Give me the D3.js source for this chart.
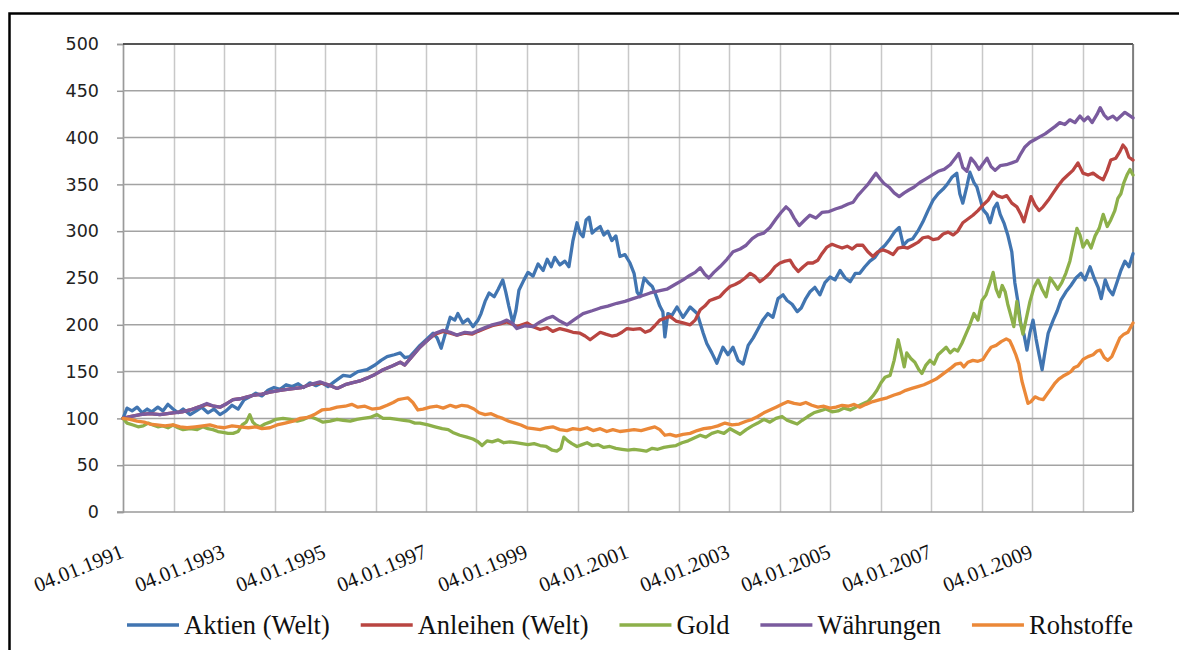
<!DOCTYPE html>
<html><head><meta charset="utf-8">
<script src="https://cdn.jsdelivr.net/npm/d3@7"></script>
<style>
html,body{margin:0;padding:0;background:#fff;}svg{display:block;}
.serif{font-family:"Liberation Serif","Tinos","Times New Roman","Nimbus Roman","Nimbus Roman No9 L","FreeSerif","DejaVu Serif","Noto Serif","Noto Serif CJK SC",serif;}
.sans{font-family:"DejaVu Sans",Verdana,sans-serif;}
</style>
</head><body>
<svg id="chart" width="1179" height="650"></svg>
<script>
// Time in years since 04.01.1991, value indexed to 100
const aktien = [[0,100],[0.08,111],[0.18,108],[0.28,112],[0.38,106],[0.48,110],[0.57,107],[0.69,112],[0.79,108],[0.89,115],[0.99,110],[1.09,106],[1.19,110],[1.33,104],[1.45,108],[1.56,112],[1.68,106],[1.80,110],[1.92,104],[2.04,108],[2.16,114],[2.28,110],[2.40,120],[2.51,123],[2.63,127],[2.75,124],[2.87,130],[2.99,133],[3.11,131],[3.23,136],[3.35,134],[3.47,137],[3.58,133],[3.70,138],[3.82,135],[3.94,138],[4.06,134],[4.18,139],[4.36,146],[4.50,145],[4.65,150],[4.83,152],[4.99,157],[5.11,162],[5.23,166],[5.37,168],[5.49,170],[5.58,165],[5.68,166],[5.78,172],[5.88,178],[6.02,185],[6.14,191],[6.22,186],[6.30,175],[6.38,190],[6.48,208],[6.57,205],[6.63,212],[6.73,202],[6.83,206],[6.93,198],[7.03,205],[7.09,212],[7.17,225],[7.25,234],[7.35,230],[7.43,238],[7.52,248],[7.58,235],[7.64,220],[7.72,202],[7.78,215],[7.84,237],[7.94,248],[8.02,256],[8.12,252],[8.22,265],[8.32,258],[8.40,270],[8.48,262],[8.55,272],[8.65,264],[8.75,268],[8.83,262],[8.91,290],[8.99,309],[9.05,298],[9.11,294],[9.17,312],[9.23,315],[9.29,298],[9.37,302],[9.45,305],[9.52,296],[9.60,300],[9.68,290],[9.76,295],[9.84,273],[9.94,275],[10.04,266],[10.12,255],[10.18,235],[10.24,230],[10.32,250],[10.40,245],[10.48,241],[10.55,232],[10.63,220],[10.69,214],[10.73,187],[10.79,212],[10.87,210],[10.97,219],[11.09,208],[11.23,219],[11.37,212],[11.49,191],[11.56,180],[11.66,170],[11.76,159],[11.88,176],[11.98,168],[12.08,176],[12.18,162],[12.28,158],[12.38,178],[12.48,186],[12.57,195],[12.67,205],[12.77,212],[12.87,208],[12.97,228],[13.07,232],[13.15,226],[13.25,222],[13.35,214],[13.43,218],[13.52,228],[13.60,235],[13.70,240],[13.80,232],[13.90,245],[14.00,251],[14.10,248],[14.20,258],[14.30,250],[14.40,246],[14.50,255],[14.59,255],[14.69,262],[14.79,268],[14.89,272],[14.99,280],[15.09,285],[15.19,292],[15.29,300],[15.37,304],[15.45,285],[15.54,290],[15.64,292],[15.74,300],[15.84,310],[15.94,322],[16.04,333],[16.14,340],[16.24,345],[16.32,350],[16.42,358],[16.51,362],[16.57,340],[16.63,330],[16.71,348],[16.77,363],[16.85,352],[16.91,347],[16.97,335],[17.03,323],[17.11,318],[17.17,309],[17.25,325],[17.31,330],[17.37,318],[17.45,308],[17.52,296],[17.60,278],[17.66,245],[17.72,225],[17.78,200],[17.84,190],[17.90,173],[17.96,192],[18.02,205],[18.08,185],[18.14,168],[18.20,152],[18.26,172],[18.32,191],[18.42,205],[18.50,215],[18.57,226],[18.67,235],[18.77,242],[18.87,250],[18.97,255],[19.05,248],[19.15,262],[19.23,250],[19.31,240],[19.37,228],[19.45,248],[19.52,238],[19.60,232],[19.68,245],[19.76,258],[19.84,268],[19.92,262],[20.00,276]];

const anleihen = [[0,100],[0.14,102],[0.34,104],[0.53,105],[0.73,104],[0.99,106],[1.17,107],[1.33,109],[1.49,112],[1.66,115],[1.80,113],[1.92,112],[2.06,116],[2.18,120],[2.32,121],[2.46,123],[2.61,125],[2.75,126],[2.91,128],[3.11,130],[3.25,131],[3.41,132],[3.54,133],[3.70,136],[3.90,138],[4.06,136],[4.24,132],[4.40,136],[4.53,138],[4.69,140],[4.83,143],[4.99,147],[5.15,152],[5.33,156],[5.49,160],[5.58,157],[5.72,166],[5.88,176],[6.04,184],[6.18,190],[6.34,193],[6.48,191],[6.61,189],[6.77,191],[6.91,190],[7.03,193],[7.17,196],[7.31,199],[7.47,201],[7.60,203],[7.70,201],[7.80,198],[8.00,202],[8.12,198],[8.26,195],[8.40,197],[8.51,193],[8.65,196],[8.79,194],[8.91,192],[9.05,191],[9.15,188],[9.25,184],[9.35,188],[9.45,192],[9.56,190],[9.68,188],[9.78,189],[9.88,192],[9.98,196],[10.10,195],[10.24,196],[10.34,192],[10.44,194],[10.53,199],[10.63,205],[10.73,207],[10.83,209],[10.95,204],[11.09,202],[11.23,200],[11.33,205],[11.43,216],[11.52,220],[11.62,226],[11.72,228],[11.82,230],[11.92,236],[12.02,241],[12.12,243],[12.22,246],[12.32,250],[12.42,255],[12.51,252],[12.61,246],[12.71,250],[12.81,255],[12.91,262],[13.01,266],[13.11,268],[13.21,269],[13.29,262],[13.37,257],[13.47,262],[13.56,266],[13.66,266],[13.76,269],[13.84,276],[13.94,283],[14.04,286],[14.14,284],[14.24,282],[14.34,284],[14.44,281],[14.53,285],[14.65,285],[14.75,278],[14.85,273],[14.95,278],[15.05,280],[15.15,278],[15.25,275],[15.35,282],[15.45,283],[15.54,282],[15.64,285],[15.74,288],[15.84,293],[15.94,294],[16.04,291],[16.14,292],[16.24,297],[16.34,299],[16.44,296],[16.53,300],[16.63,309],[16.73,313],[16.83,317],[16.93,322],[17.03,328],[17.13,333],[17.23,342],[17.31,338],[17.41,336],[17.50,338],[17.60,330],[17.70,326],[17.78,318],[17.84,310],[17.90,322],[17.98,337],[18.06,328],[18.14,322],[18.22,326],[18.32,333],[18.42,341],[18.51,348],[18.61,355],[18.71,360],[18.81,365],[18.91,373],[19.01,362],[19.11,360],[19.21,362],[19.31,358],[19.41,355],[19.49,365],[19.56,376],[19.66,378],[19.74,385],[19.80,392],[19.86,388],[19.92,379],[20.00,376]];

const gold = [[0,100],[0.08,95],[0.20,93],[0.30,91],[0.40,92],[0.50,95],[0.59,93],[0.69,91],[0.79,92],[0.89,90],[0.99,93],[1.09,90],[1.19,88],[1.33,89],[1.47,88],[1.58,91],[1.68,89],[1.78,88],[1.88,86],[1.98,85],[2.08,84],[2.18,84],[2.28,86],[2.36,93],[2.44,96],[2.51,104],[2.57,96],[2.63,93],[2.71,91],[2.81,94],[2.91,96],[3.03,99],[3.17,100],[3.31,99],[3.45,97],[3.58,99],[3.70,102],[3.84,99],[3.96,96],[4.10,97],[4.24,99],[4.36,98],[4.50,97],[4.63,99],[4.75,100],[4.89,101],[5.03,104],[5.15,100],[5.29,100],[5.43,99],[5.56,98],[5.68,97],[5.78,95],[5.88,95],[6.04,93],[6.18,91],[6.32,89],[6.44,88],[6.53,85],[6.67,82],[6.81,80],[6.93,78],[7.03,75],[7.11,71],[7.21,76],[7.31,75],[7.43,77],[7.54,74],[7.66,75],[7.78,74],[7.90,73],[8.02,72],[8.14,73],[8.26,71],[8.38,70],[8.50,66],[8.59,65],[8.67,68],[8.73,80],[8.81,76],[8.89,73],[8.99,70],[9.09,72],[9.19,74],[9.29,71],[9.41,72],[9.52,69],[9.64,70],[9.76,68],[9.88,67],[10.00,66],[10.12,67],[10.24,66],[10.36,65],[10.48,68],[10.59,67],[10.71,69],[10.83,70],[10.95,71],[11.07,74],[11.19,76],[11.31,79],[11.43,82],[11.54,80],[11.66,84],[11.78,86],[11.90,84],[12.02,89],[12.12,86],[12.22,83],[12.34,88],[12.46,92],[12.57,95],[12.69,99],[12.81,96],[12.93,100],[13.05,102],[13.15,98],[13.25,96],[13.35,94],[13.45,98],[13.56,102],[13.68,106],[13.80,108],[13.92,110],[14.04,107],[14.16,108],[14.28,111],[14.40,109],[14.51,112],[14.63,115],[14.75,118],[14.85,124],[14.93,130],[15.01,138],[15.09,144],[15.19,146],[15.27,162],[15.35,184],[15.41,170],[15.47,155],[15.52,170],[15.60,164],[15.68,160],[15.76,152],[15.82,148],[15.90,157],[15.98,162],[16.06,158],[16.14,168],[16.22,172],[16.30,176],[16.38,170],[16.46,174],[16.53,172],[16.61,180],[16.69,190],[16.77,200],[16.85,212],[16.93,205],[17.01,226],[17.09,232],[17.17,245],[17.23,256],[17.29,238],[17.35,230],[17.41,242],[17.47,235],[17.52,222],[17.58,210],[17.64,198],[17.70,225],[17.76,205],[17.82,190],[17.88,205],[17.96,225],[18.04,240],[18.12,248],[18.20,238],[18.28,230],[18.36,250],[18.44,244],[18.51,238],[18.59,245],[18.67,255],[18.75,268],[18.83,288],[18.89,303],[18.95,296],[19.01,283],[19.09,290],[19.17,282],[19.25,295],[19.33,303],[19.41,318],[19.49,305],[19.56,312],[19.64,322],[19.70,335],[19.76,340],[19.82,352],[19.88,360],[19.94,366],[20.00,360]];

const waehrungen = [[0,100],[0.14,102],[0.34,104],[0.53,105],[0.73,104],[0.99,106],[1.17,107],[1.33,109],[1.49,112],[1.66,116],[1.80,113],[1.92,112],[2.06,116],[2.18,120],[2.32,121],[2.46,123],[2.61,125],[2.75,126],[2.91,128],[3.11,130],[3.25,131],[3.41,132],[3.54,133],[3.70,136],[3.90,139],[4.06,136],[4.24,132],[4.40,136],[4.53,138],[4.69,140],[4.83,143],[4.99,147],[5.15,152],[5.33,156],[5.49,160],[5.58,157],[5.72,166],[5.88,176],[6.04,184],[6.18,191],[6.34,194],[6.48,192],[6.61,189],[6.77,192],[6.91,191],[7.03,194],[7.17,197],[7.31,200],[7.47,202],[7.60,205],[7.70,202],[7.80,196],[7.96,199],[8.12,198],[8.26,203],[8.40,207],[8.51,209],[8.65,204],[8.79,200],[8.95,206],[9.11,212],[9.29,215],[9.45,218],[9.60,220],[9.78,223],[9.94,225],[10.10,228],[10.28,231],[10.44,234],[10.59,236],[10.77,238],[10.93,243],[11.09,248],[11.23,253],[11.33,256],[11.43,261],[11.52,254],[11.60,250],[11.70,256],[11.82,262],[11.96,270],[12.08,278],[12.22,281],[12.34,285],[12.46,292],[12.57,296],[12.69,298],[12.81,304],[12.93,313],[13.03,320],[13.13,326],[13.21,322],[13.29,314],[13.39,306],[13.50,312],[13.60,317],[13.72,314],[13.84,320],[13.98,321],[14.12,324],[14.24,326],[14.36,329],[14.46,331],[14.55,338],[14.65,344],[14.75,350],[14.83,356],[14.91,362],[14.99,356],[15.07,351],[15.17,347],[15.27,341],[15.37,337],[15.47,341],[15.56,344],[15.66,347],[15.78,352],[15.90,356],[16.02,360],[16.14,364],[16.26,366],[16.38,371],[16.48,378],[16.55,383],[16.63,368],[16.71,364],[16.79,378],[16.87,373],[16.95,366],[17.03,372],[17.11,378],[17.19,369],[17.27,365],[17.37,370],[17.49,371],[17.60,373],[17.70,375],[17.78,383],[17.86,390],[17.96,395],[18.06,398],[18.16,401],[18.26,404],[18.36,408],[18.46,412],[18.55,416],[18.65,414],[18.75,419],[18.85,416],[18.95,423],[19.03,418],[19.11,422],[19.19,416],[19.29,425],[19.35,432],[19.43,424],[19.50,420],[19.60,423],[19.68,419],[19.76,423],[19.84,427],[19.92,424],[20.00,421]];

const rohstoffe = [[0,100],[0.14,99],[0.28,97],[0.42,96],[0.53,94],[0.67,93],[0.83,92],[0.99,93],[1.13,91],[1.27,90],[1.43,91],[1.58,92],[1.72,93],[1.86,91],[2.00,90],[2.16,92],[2.32,91],[2.48,90],[2.63,91],[2.75,89],[2.91,90],[3.05,93],[3.21,95],[3.37,97],[3.50,100],[3.66,101],[3.82,105],[3.94,109],[4.10,110],[4.24,112],[4.40,113],[4.53,115],[4.65,112],[4.79,113],[4.93,110],[5.09,111],[5.23,114],[5.35,117],[5.45,120],[5.54,121],[5.64,122],[5.74,117],[5.84,109],[5.94,110],[6.08,112],[6.22,113],[6.34,111],[6.48,114],[6.59,112],[6.71,114],[6.83,113],[6.95,110],[7.05,106],[7.17,104],[7.29,105],[7.41,102],[7.52,100],[7.64,97],[7.76,95],[7.88,93],[8.00,90],[8.12,89],[8.26,88],[8.38,90],[8.51,91],[8.65,88],[8.79,87],[8.91,89],[9.05,88],[9.19,90],[9.31,87],[9.45,89],[9.58,86],[9.70,88],[9.84,86],[9.98,87],[10.12,88],[10.26,87],[10.40,89],[10.53,91],[10.63,88],[10.73,82],[10.83,83],[10.95,81],[11.09,83],[11.23,84],[11.37,87],[11.50,89],[11.64,90],[11.78,92],[11.92,95],[12.06,93],[12.20,94],[12.34,97],[12.46,99],[12.57,102],[12.69,106],[12.81,109],[12.93,112],[13.05,115],[13.17,118],[13.29,116],[13.41,115],[13.52,117],[13.64,114],[13.76,112],[13.88,113],[14.00,111],[14.12,112],[14.24,114],[14.36,113],[14.48,115],[14.59,112],[14.71,115],[14.85,118],[14.99,120],[15.13,122],[15.27,125],[15.39,127],[15.50,130],[15.62,132],[15.74,134],[15.86,136],[15.98,139],[16.10,142],[16.20,146],[16.30,150],[16.40,154],[16.49,158],[16.59,159],[16.65,155],[16.73,160],[16.83,162],[16.93,161],[17.03,163],[17.11,170],[17.19,176],[17.29,178],[17.39,182],[17.49,185],[17.56,183],[17.62,176],[17.68,168],[17.74,158],[17.80,140],[17.86,128],[17.92,116],[17.98,118],[18.06,123],[18.14,121],[18.22,120],[18.30,126],[18.38,132],[18.46,138],[18.53,142],[18.61,145],[18.71,148],[18.77,150],[18.83,154],[18.91,156],[19.01,163],[19.11,166],[19.21,168],[19.29,172],[19.35,173],[19.43,165],[19.50,162],[19.58,166],[19.66,176],[19.74,186],[19.82,190],[19.90,192],[20.00,202]];

const seriesNames = ["Aktien (Welt)", "Anleihen (Welt)", "Gold", "Währungen", "Rohstoffe"];
const seriesColors = ["#4175B1", "#B94541", "#8DB04A", "#7A5B9E", "#EB8838"];
const seriesData = [aktien, anleihen, gold, waehrungen, rohstoffe];

const yTicks = [0, 50, 100, 150, 200, 250, 300, 350, 400, 450, 500];
const xGridYears = d3.range(0, 21);
const xTickLabels = ["04.01.1991","04.01.1993","04.01.1995","04.01.1997","04.01.1999","04.01.2001","04.01.2003","04.01.2005","04.01.2007","04.01.2009"];
const xTickPos = [0, 2, 4, 6, 8, 10, 12, 14, 16, 18];

const svg = d3.select("#chart");
const L = 123, R = 1133, T = 44, B = 512;
const x = d3.scaleLinear().domain([0, 20]).range([L, R]);
const y = d3.scaleLinear().domain([0, 500]).range([B, T]);

// outer frame
svg.append("rect").attr("x", 9.5).attr("y", 13.5).attr("width", 1190).attr("height", 660)
  .attr("fill", "#fff").attr("stroke", "#000").attr("stroke-width", 2.5);

// vertical gridlines
svg.append("g").selectAll("line").data(xGridYears).join("line")
  .attr("x1", d => Math.round(x(d)) + 0.5).attr("x2", d => Math.round(x(d)) + 0.5)
  .attr("y1", T).attr("y2", B)
  .attr("stroke", "#c8c8c8").attr("stroke-width", 1.5);

// y axis with horizontal gridlines
const yAxis = d3.axisLeft(y).tickValues(yTicks).tickSize(6).tickPadding(18);
const gy = svg.append("g").attr("transform", `translate(${L},0)`).call(yAxis);
gy.attr("font-family", null).attr("font-size", null);
gy.select(".domain").attr("stroke", "#9a9a9a").attr("stroke-width", 1.5);
gy.selectAll(".tick line").attr("stroke", "#9a9a9a").attr("stroke-width", 1.5);
gy.selectAll(".tick text").attr("class", "sans")
  .style("font-size", "17.5px").attr("fill", "#222");
svg.append("g").selectAll("line").data(yTicks.filter(d => d > 0)).join("line")
  .attr("x1", L).attr("x2", R).attr("y1", d => y(d)).attr("y2", d => y(d))
  .attr("stroke", "#a3a3a3").attr("stroke-width", 1.5);

// plot border top/right
svg.append("line").attr("x1", L).attr("x2", R).attr("y1", T).attr("y2", T).attr("stroke", "#333").attr("stroke-width", 1.5);
svg.append("line").attr("x1", R).attr("x2", R).attr("y1", T).attr("y2", B).attr("stroke", "#666").attr("stroke-width", 1.5);
// bottom axis
svg.append("line").attr("x1", L - 6).attr("x2", R).attr("y1", B).attr("y2", B).attr("stroke", "#9a9a9a").attr("stroke-width", 1.5);

// x labels
svg.append("g").selectAll("text").data(xTickPos).join("text")
  .attr("class", "serif")
  .attr("transform", d => `translate(${x(d) + 2},557) rotate(-22)`)
  .attr("text-anchor", "end")
  .style("font-size", "21px").attr("fill", "#111")
  .text((d, i) => xTickLabels[i]);

// lines
const line = d3.line().x(d => x(d[0])).y(d => y(d[1])).curve(d3.curveLinear);
svg.append("g").selectAll("path").data(seriesData).join("path")
  .attr("d", d => line(d)).attr("fill", "none")
  .attr("stroke", (d, i) => seriesColors[i]).attr("stroke-width", 3.3)
  .attr("stroke-linejoin", "round").attr("stroke-linecap", "round");

// legend: items spread between x=127 and x=1133
const lg = svg.append("g");
const items = seriesNames.map((name, i) => {
  const g = lg.append("g");
  g.append("line").attr("x1", 0).attr("x2", 52).attr("y1", 625).attr("y2", 625)
    .attr("stroke", seriesColors[i]).attr("stroke-width", 3.3);
  const t = g.append("text").attr("class", "serif").attr("x", 57).attr("y", 634)
    .style("font-size", "26.5px").attr("fill", "#111").text(name);
  return {g, w: 57 + t.node().getComputedTextLength()};
});
const totalW = d3.sum(items, d => d.w);
const gap = (1133 - 127 - totalW) / (items.length - 1);
let cx = 127;
items.forEach(it => { it.g.attr("transform", `translate(${cx},0)`); cx += it.w + gap; });
</script>
</body></html>
